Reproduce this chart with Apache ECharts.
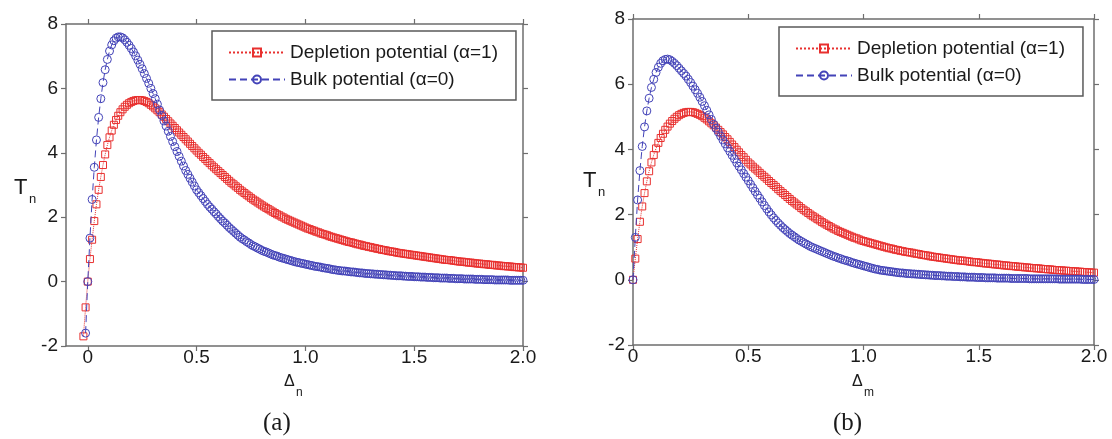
<!DOCTYPE html>
<html>
<head>
<meta charset="utf-8">
<script src="https://cdn.jsdelivr.net/npm/echarts@6/dist/echarts.min.js"></script>
<style>
html,body{margin:0;padding:0;background:#fff;}
#c{width:1112px;height:439px;}
</style>
</head>
<body>
<div id="c"></div>
<script>
// ---------- DATA ----------
const seriesNames = ['Depletion potential (\u03b1=1)', 'Bulk potential (\u03b1=0)'];
const xTickValues = [0, 0.5, 1.0, 1.5, 2.0];
const yTickValues = [-2, 0, 2, 4, 6, 8];

// common sampling grid of the curves (Δ = 0.00 ... 2.00)
const xGrid = [
0.00,0.01,0.02,0.03,0.04,0.05,0.06,0.07,0.08,0.09,
0.10,0.11,0.12,0.13,0.14,0.15,0.16,0.17,0.18,0.19,
0.20,0.21,0.22,0.23,0.24,0.25,0.26,0.27,0.28,0.29,
0.30,0.31,0.32,0.33,0.34,0.35,0.36,0.37,0.38,0.39,
0.40,0.41,0.42,0.43,0.44,0.45,0.46,0.47,0.48,0.49,
0.50,0.51,0.52,0.53,0.54,0.55,0.56,0.57,0.58,0.59,
0.60,0.61,0.62,0.63,0.64,0.65,0.66,0.67,0.68,0.69,
0.70,0.71,0.72,0.73,0.74,0.75,0.76,0.77,0.78,0.79,
0.80,0.81,0.82,0.83,0.84,0.85,0.86,0.87,0.88,0.89,
0.90,0.91,0.92,0.93,0.94,0.95,0.96,0.97,0.98,0.99,
1.00,1.01,1.02,1.03,1.04,1.05,1.06,1.07,1.08,1.09,
1.10,1.11,1.12,1.13,1.14,1.15,1.16,1.17,1.18,1.19,
1.20,1.21,1.22,1.23,1.24,1.25,1.26,1.27,1.28,1.29,
1.30,1.31,1.32,1.33,1.34,1.35,1.36,1.37,1.38,1.39,
1.40,1.41,1.42,1.43,1.44,1.45,1.46,1.47,1.48,1.49,
1.50,1.51,1.52,1.53,1.54,1.55,1.56,1.57,1.58,1.59,
1.60,1.61,1.62,1.63,1.64,1.65,1.66,1.67,1.68,1.69,
1.70,1.71,1.72,1.73,1.74,1.75,1.76,1.77,1.78,1.79,
1.80,1.81,1.82,1.83,1.84,1.85,1.86,1.87,1.88,1.89,
1.90,1.91,1.92,1.93,1.94,1.95,1.96,1.97,1.98,1.99,
2.00];

// panel (a): points left of zero
const aRedPreX = [-0.02, -0.01];
const aRedPreY = [-1.70, -0.80];
const aBluePreX = [-0.01];
const aBluePreY = [-1.60];

// panel (a) depletion potential
const aRed = [
0,0.70,1.30,1.88,2.40,2.85,3.25,3.62,3.95,4.24,
4.48,4.69,4.87,5.02,5.15,5.26,5.35,5.43,5.49,5.54,
5.58,5.61,5.63,5.64,5.64,5.63,5.61,5.58,5.54,5.49,
5.44,5.38,5.32,5.26,5.19,5.12,5.05,4.98,4.91,4.84,
4.77,4.70,4.63,4.56,4.49,4.42,4.35,4.28,4.21,4.14,
4.07,4.00,3.94,3.87,3.81,3.74,3.68,3.61,3.55,3.49,
3.43,3.37,3.31,3.25,3.19,3.13,3.07,3.02,2.96,2.91,
2.85,2.80,2.75,2.70,2.65,2.60,2.55,2.51,2.46,2.42,
2.37,2.33,2.29,2.25,2.21,2.17,2.13,2.09,2.06,2.02,
1.99,1.95,1.92,1.89,1.86,1.83,1.80,1.77,1.74,1.71,
1.68,1.65,1.63,1.60,1.58,1.55,1.53,1.50,1.48,1.46,
1.44,1.41,1.39,1.37,1.35,1.33,1.31,1.29,1.27,1.25,
1.23,1.22,1.20,1.18,1.16,1.15,1.13,1.11,1.10,1.08,
1.07,1.05,1.04,1.02,1.01,0.99,0.98,0.97,0.95,0.94,
0.93,0.92,0.90,0.89,0.88,0.87,0.86,0.85,0.84,0.83,
0.82,0.81,0.80,0.79,0.78,0.77,0.76,0.75,0.74,0.73,
0.72,0.71,0.70,0.69,0.68,0.67,0.67,0.66,0.65,0.64,
0.63,0.62,0.62,0.61,0.60,0.59,0.59,0.58,0.57,0.56,
0.56,0.55,0.54,0.54,0.53,0.52,0.52,0.51,0.50,0.50,
0.49,0.48,0.48,0.47,0.47,0.46,0.45,0.45,0.44,0.44,
0.43];

// panel (a) bulk potential
const aBlue = [
0,1.35,2.55,3.55,4.40,5.10,5.68,6.18,6.58,6.90,
7.16,7.35,7.48,7.56,7.60,7.60,7.57,7.51,7.43,7.34,
7.24,7.13,7.01,6.88,6.75,6.61,6.46,6.31,6.16,6.00,
5.84,5.68,5.51,5.33,5.16,4.99,4.83,4.67,4.51,4.35,
4.19,4.04,3.89,3.74,3.59,3.45,3.33,3.21,3.09,2.97,
2.85,2.76,2.67,2.58,2.49,2.40,2.32,2.25,2.17,2.10,
2.02,1.95,1.88,1.82,1.75,1.68,1.62,1.56,1.50,1.44,
1.38,1.33,1.29,1.24,1.20,1.15,1.11,1.08,1.04,1.01,
0.97,0.94,0.92,0.89,0.86,0.83,0.81,0.79,0.76,0.74,
0.72,0.70,0.68,0.66,0.64,0.62,0.60,0.59,0.57,0.56,
0.54,0.53,0.51,0.50,0.48,0.47,0.46,0.45,0.43,0.42,
0.41,0.40,0.38,0.37,0.36,0.35,0.34,0.33,0.33,0.32,
0.31,0.30,0.30,0.29,0.28,0.27,0.27,0.26,0.25,0.25,
0.24,0.24,0.23,0.23,0.22,0.22,0.21,0.21,0.20,0.20,
0.19,0.19,0.18,0.18,0.18,0.17,0.17,0.16,0.16,0.16,
0.15,0.15,0.15,0.14,0.14,0.14,0.13,0.13,0.13,0.12,
0.12,0.12,0.11,0.11,0.11,0.11,0.10,0.10,0.10,0.09,
0.09,0.09,0.09,0.08,0.08,0.08,0.08,0.08,0.07,0.07,
0.07,0.07,0.06,0.06,0.06,0.06,0.06,0.05,0.05,0.05,
0.05,0.05,0.05,0.05,0.04,0.04,0.04,0.04,0.04,0.04,
0.04];

// panel (b) depletion potential
const bRed = [
0,0.65,1.25,1.78,2.25,2.66,3.02,3.33,3.60,3.83,
4.03,4.20,4.35,4.48,4.60,4.70,4.79,4.87,4.94,5.00,
5.05,5.09,5.12,5.14,5.15,5.15,5.14,5.12,5.09,5.06,
5.02,4.97,4.92,4.86,4.80,4.74,4.67,4.60,4.53,4.46,
4.38,4.31,4.23,4.15,4.07,3.99,3.91,3.83,3.76,3.68,
3.60,3.54,3.47,3.41,3.35,3.28,3.22,3.16,3.10,3.03,
2.97,2.91,2.85,2.78,2.72,2.66,2.60,2.54,2.48,2.42,
2.37,2.31,2.26,2.20,2.15,2.10,2.05,2.00,1.95,1.91,
1.86,1.82,1.77,1.73,1.69,1.65,1.61,1.57,1.54,1.50,
1.47,1.44,1.41,1.38,1.35,1.32,1.29,1.27,1.24,1.21,
1.19,1.17,1.15,1.13,1.11,1.09,1.07,1.05,1.03,1.01,
0.99,0.97,0.96,0.94,0.92,0.91,0.89,0.88,0.86,0.85,
0.84,0.83,0.81,0.80,0.79,0.77,0.76,0.75,0.74,0.72,
0.71,0.70,0.69,0.68,0.67,0.66,0.65,0.64,0.63,0.62,
0.61,0.60,0.59,0.59,0.58,0.57,0.56,0.55,0.54,0.54,
0.53,0.52,0.51,0.50,0.50,0.49,0.48,0.47,0.47,0.46,
0.45,0.44,0.44,0.43,0.42,0.42,0.41,0.40,0.40,0.39,
0.38,0.38,0.37,0.36,0.36,0.35,0.35,0.34,0.33,0.33,
0.32,0.32,0.31,0.30,0.30,0.29,0.29,0.28,0.28,0.27,
0.27,0.26,0.26,0.25,0.25,0.24,0.24,0.23,0.23,0.22,
0.22];

// panel (b) bulk potential
const bBlue = [
0,1.30,2.45,3.35,4.09,4.69,5.18,5.57,5.90,6.15,
6.36,6.52,6.64,6.72,6.76,6.77,6.75,6.70,6.64,6.57,
6.49,6.41,6.33,6.25,6.15,6.05,5.94,5.83,5.72,5.60,
5.47,5.34,5.20,5.06,4.92,4.77,4.65,4.53,4.41,4.29,
4.17,4.05,3.94,3.82,3.71,3.59,3.48,3.37,3.26,3.15,
3.04,2.93,2.82,2.71,2.60,2.50,2.39,2.28,2.18,2.08,
1.99,1.90,1.82,1.74,1.67,1.60,1.54,1.48,1.42,1.37,
1.32,1.27,1.22,1.18,1.14,1.10,1.06,1.02,0.99,0.96,
0.93,0.90,0.87,0.84,0.81,0.78,0.75,0.72,0.70,0.67,
0.65,0.62,0.60,0.58,0.56,0.53,0.51,0.49,0.47,0.45,
0.43,0.41,0.39,0.37,0.35,0.33,0.32,0.30,0.29,0.28,
0.27,0.26,0.25,0.24,0.23,0.22,0.21,0.21,0.20,0.19,
0.19,0.18,0.18,0.17,0.17,0.16,0.16,0.15,0.15,0.14,
0.14,0.13,0.13,0.13,0.12,0.12,0.11,0.11,0.11,0.10,
0.10,0.10,0.09,0.09,0.09,0.08,0.08,0.08,0.08,0.07,
0.07,0.07,0.07,0.06,0.06,0.06,0.06,0.06,0.05,0.05,
0.05,0.05,0.05,0.05,0.04,0.04,0.04,0.04,0.04,0.04,
0.04,0.04,0.03,0.03,0.03,0.03,0.03,0.03,0.03,0.03,
0.03,0.03,0.03,0.03,0.03,0.02,0.02,0.02,0.02,0.02,
0.02,0.02,0.02,0.02,0.02,0.01,0.01,0.01,0.01,0.01,
0.01];

// ---------- CHART ----------
const RED = '#e8302f';
const BLUE = '#4343b8';
const AXIS = '#6e6e6e';
const TXT = '#1a1a1a';
const SANS = '"Liberation Sans", Arial, sans-serif';

function pairs(xs, ys) { return xs.map((x, i) => [x, ys[i]]); }

const chart = echarts.init(document.getElementById('c'), null, {renderer: 'canvas'});

function xAxisDef(gridIndex, min, pos, showLabel) {
  return {
    type: 'value', gridIndex, min, max: 2, position: pos,
    axisLine: {show: true, onZero: false, lineStyle: {color: AXIS, width: 1.5}},
    axisTick: {show: true, inside: false, length: 5, customValues: xTickValues, lineStyle: {color: AXIS, width: 1.2}},
    axisLabel: {show: showLabel, customValues: xTickValues, margin: 2, fontSize: 19, fontFamily: SANS, color: TXT,
      formatter: v => (v === 0 ? '0' : v.toFixed(1))},
    splitLine: {show: false}
  };
}
function yAxisDef(gridIndex, pos, showLabel) {
  return {
    type: 'value', gridIndex, min: -2, max: 8, interval: 2, position: pos,
    axisLine: {show: true, onZero: false, lineStyle: {color: AXIS, width: 1.5}},
    axisTick: {show: true, inside: false, length: 5, lineStyle: {color: AXIS, width: 1.2}},
    axisLabel: {show: showLabel, margin: 8, fontSize: 19, fontFamily: SANS, color: TXT},
    splitLine: {show: false}
  };
}
function redSeries(xi, yi, data) {
  return {
    name: seriesNames[0], type: 'line', xAxisIndex: xi, yAxisIndex: yi, data,
    symbol: 'rect', symbolSize: 7, showAllSymbol: true, clip: false,
    itemStyle: {color: 'rgba(255,255,255,0)', borderColor: RED, borderWidth: 1},
    lineStyle: {color: RED, width: 1, type: 'dotted'},
    emphasis: {disabled: true}, z: 2
  };
}
function blueSeries(xi, yi, data) {
  return {
    name: seriesNames[1], type: 'line', xAxisIndex: xi, yAxisIndex: yi, data,
    symbol: 'circle', symbolSize: 8, showAllSymbol: true, clip: false,
    itemStyle: {color: 'rgba(255,255,255,0)', borderColor: BLUE, borderWidth: 1},
    lineStyle: {color: BLUE, width: 1, type: [7, 4]},
    emphasis: {disabled: true}, z: 3
  };
}
function legendDef(left, top) {
  return {
    orient: 'vertical', left, top, data: seriesNames,
    itemWidth: 56, itemHeight: 10, itemGap: 8,
    padding: [12, 18, 11, 16],
    borderColor: '#5a5a5a', borderWidth: 1.5, backgroundColor: '#fff',
    textStyle: {fontSize: 19, fontFamily: SANS, color: TXT},
    selectedMode: false
  };
}
function txt(left, top, text, size, family) {
  return {type: 'text', left, top, silent: true,
    style: {text, fontSize: size, fontFamily: family || SANS, fill: TXT}};
}

chart.setOption({
  animation: false,
  backgroundColor: '#fff',
  grid: [
    {left: 66, top: 24, width: 457, height: 322},
    {left: 633, top: 19, width: 461, height: 326}
  ],
  xAxis: [
    xAxisDef(0, -0.1, 'bottom', true),
    xAxisDef(0, -0.1, 'top', false),
    xAxisDef(1, 0, 'bottom', true),
    xAxisDef(1, 0, 'top', false)
  ],
  yAxis: [
    yAxisDef(0, 'left', true),
    yAxisDef(0, 'right', false),
    yAxisDef(1, 'left', true),
    yAxisDef(1, 'right', false)
  ],
  legend: [legendDef(212, 31), legendDef(779, 27)],
  series: [
    redSeries(0, 0, pairs(aRedPreX, aRedPreY).concat(pairs(xGrid, aRed))),
    blueSeries(0, 0, pairs(aBluePreX, aBluePreY).concat(pairs(xGrid, aBlue))),
    redSeries(2, 2, pairs(xGrid, bRed)),
    blueSeries(2, 2, pairs(xGrid, bBlue))
  ],
  graphic: [
    txt(14, 177, 'T', 22), txt(29, 193, 'n', 13),
    txt(583, 170, 'T', 22), txt(598, 186, 'n', 13),
    txt(284, 374, '\u0394', 16), txt(296, 387, 'n', 12),
    txt(852, 374, '\u0394', 16), txt(864, 387, 'm', 12),
    txt(263, 411, '(a)', 25, '"Liberation Serif", "Times New Roman", serif'),
    txt(833, 411, '(b)', 25, '"Liberation Serif", "Times New Roman", serif')
  ]
});
</script>
</body>
</html>
